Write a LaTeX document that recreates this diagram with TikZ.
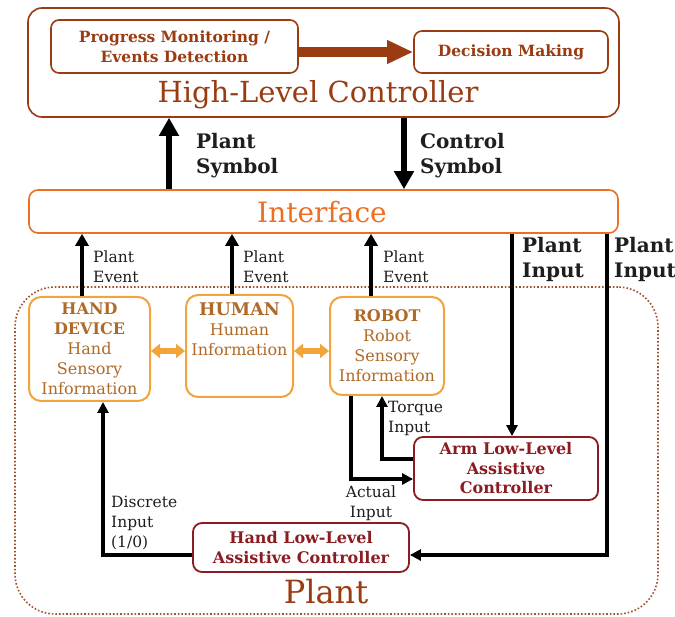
\documentclass[tikz,border=0pt]{standalone}
\usepackage{fontspec}
\setmainfont{DejaVu Serif}
\usetikzlibrary{arrows.meta}
\definecolor{hlbrown}{HTML}{9A3B12}
\definecolor{ifaceorange}{HTML}{EE6E22}
\definecolor{plantgold}{HTML}{F2A43A}
\definecolor{planttext}{HTML}{B06A28}
\definecolor{lowred}{HTML}{8A1C22}
\definecolor{dotbrown}{HTML}{A0522D}
\definecolor{ink}{HTML}{1E1E1E}
\begin{document}
\begin{tikzpicture}[x=1pt,y=-1pt,
  hlbox/.style={draw=hlbrown,line width=1.6pt,rounded corners=14pt,inner sep=0pt},
  subbox/.style={draw=hlbrown,line width=1.6pt,rounded corners=8pt,inner sep=0pt,
    align=center,text=hlbrown,font=\fontsize{15.5}{20}\selectfont\bfseries},
  ifbox/.style={draw=ifaceorange,line width=1.6pt,rounded corners=9pt,inner sep=0pt},
  plbox/.style={draw=plantgold,line width=2pt,rounded corners=12pt,inner sep=0pt,
    align=center,text=planttext,font=\fontsize{16}{20}\selectfont},
  lowbox/.style={draw=lowred,line width=1.8pt,rounded corners=9pt,inner sep=0pt,
    align=center,text=lowred,font=\fontsize{16}{19.5}\selectfont\bfseries},
  bigarrow/.style={draw=black,line width=6pt,-{Triangle[length=18pt,width=19pt]}},
  evarrow/.style={draw=black,line width=4pt,-{Triangle[length=12pt,width=13pt]}},
  conn/.style={draw=black,line width=3.5pt,-{Triangle[length=11pt,width=11pt]}},
  biglabel/.style={align=left,text=ink,font=\fontsize{20}{25}\selectfont\bfseries,inner sep=0pt},
  smalllabel/.style={align=left,text=ink,font=\fontsize{15.5}{20}\selectfont,inner sep=0pt},
  dblorange/.style={draw=plantgold,line width=6pt,{Triangle[length=9pt,width=14pt]}-{Triangle[length=9pt,width=14pt]}}
]
\useasboundingbox (0,0) rectangle (675,617);
\fill[white] (0,0) rectangle (675,617);

% plant region (dotted)
\node[draw=dotbrown,dotted,line width=1.6pt,rounded corners=40pt,inner sep=0pt,
  minimum width=643pt,minimum height=327pt] (plant) at (336.5,450.5) {};
\node[text=hlbrown,font=\fontsize{32}{36}\selectfont] (plantlbl) at (326,592) {Plant};

% high-level controller
\node[hlbox,minimum width=591pt,minimum height=109pt] (hlc) at (323.5,62.5) {};
\node[subbox,minimum width=247pt,minimum height=53pt] (pm) at (174.5,46.5)
  {Progress Monitoring /\\Events Detection};
\node[subbox,minimum width=194pt,minimum height=42pt] (dm) at (511,52) {Decision Making};
\node[text=hlbrown,font=\fontsize{29}{32}\selectfont] (hlclbl) at (318,95) {High-Level Controller};
\draw[draw=hlbrown,line width=10pt,-{Triangle[length=26pt,width=22pt]}] (pm.east |- 0,52) -- (dm.west |- 0,52);

% interface
\node[ifbox,minimum width=589pt,minimum height=43pt] (iface) at (323.5,211.5) {};
\node[text=ifaceorange,font=\fontsize{28}{30}\selectfont] (iflbl) at (322,212) {Interface};

% symbols between interface and controller
\coordinate (xps) at (169,0);
\coordinate (xcs) at (404,0);
\draw[bigarrow] (iface.north -| xps) -- (hlc.south -| xps);
\draw[bigarrow] (hlc.south -| xcs) -- (iface.north -| xcs);
\node[biglabel,anchor=west] (pslbl) at (196,156) {Plant\\Symbol};
\node[biglabel,anchor=west] (cslbl) at (420,156) {Control\\Symbol};

% plant components
\node[plbox,minimum width=121pt,minimum height=104pt] (hand) at (89.5,349)
  {\textbf{HAND}\\\textbf{DEVICE}\\Hand\\Sensory\\Information};
\node[plbox,minimum width=107pt,minimum height=102pt] (human) at (239.5,346)
  {\textbf{\fontsize{17.5}{20}\selectfont HUMAN}\\Human\\Information\\[14pt]};
\node[plbox,minimum width=114pt,minimum height=98pt] (robot) at (387,346)
  {\textbf{ROBOT}\\Robot\\Sensory\\Information};
\draw[dblorange] (hand.east |- 0,351) -- (human.west |- 0,351);
\draw[dblorange] (human.east |- 0,351) -- (robot.west |- 0,351);

% plant events
\coordinate (xe1) at (82,0);
\coordinate (xe2) at (232,0);
\coordinate (xe3) at (371,0);
\draw[evarrow] (hand.north -| xe1) -- (iface.south -| xe1);
\draw[evarrow] (human.north -| xe2) -- (iface.south -| xe2);
\draw[evarrow] (robot.north -| xe3) -- (iface.south -| xe3);
\node[smalllabel,anchor=west] (pe1) at (93,267) {Plant\\Event};
\node[smalllabel,anchor=west] (pe2) at (243,267) {Plant\\Event};
\node[smalllabel,anchor=west] (pe3) at (383,267) {Plant\\Event};

% low-level controllers
\node[lowbox,minimum width=184pt,minimum height=63pt] (arm) at (506,468.5)
  {Arm Low-Level\\Assistive\\Controller};
\node[lowbox,minimum width=216pt,minimum height=49pt] (handlow) at (301,547.5)
  {Hand Low-Level\\Assistive Controller};

% plant inputs
\coordinate (xpi1) at (512,0);
\coordinate (xpi2) at (607,0);
\coordinate (hin) at (0,555);
\draw[conn] (iface.south -| xpi1) -- (arm.north -| xpi1);
\draw[conn] (iface.south -| xpi2) |- (handlow.east |- hin);
\node[biglabel,anchor=west] (pi1) at (522,259) {Plant\\Input};
\node[biglabel,anchor=west] (pi2) at (614,259) {Plant\\Input};

% low-level loops
\coordinate (tq) at (382,459);
\coordinate (ac) at (351,479);
\coordinate (di) at (103,555);
\draw[conn] (arm.west |- tq) -| (robot.south -| tq);
\draw[conn] (robot.south -| ac) |- (arm.west |- ac);
\draw[conn] (handlow.west |- di) -| (hand.south -| di);
\node[smalllabel,anchor=west] (tqlbl) at (388,418) {Torque\\Input};
\node[smalllabel,align=center] (aclbl) at (371,503) {Actual\\Input};
\node[smalllabel,anchor=north west] (dilbl) at (111,496) {Discrete\\Input\\(1/0)};
\end{tikzpicture}
\end{document}
